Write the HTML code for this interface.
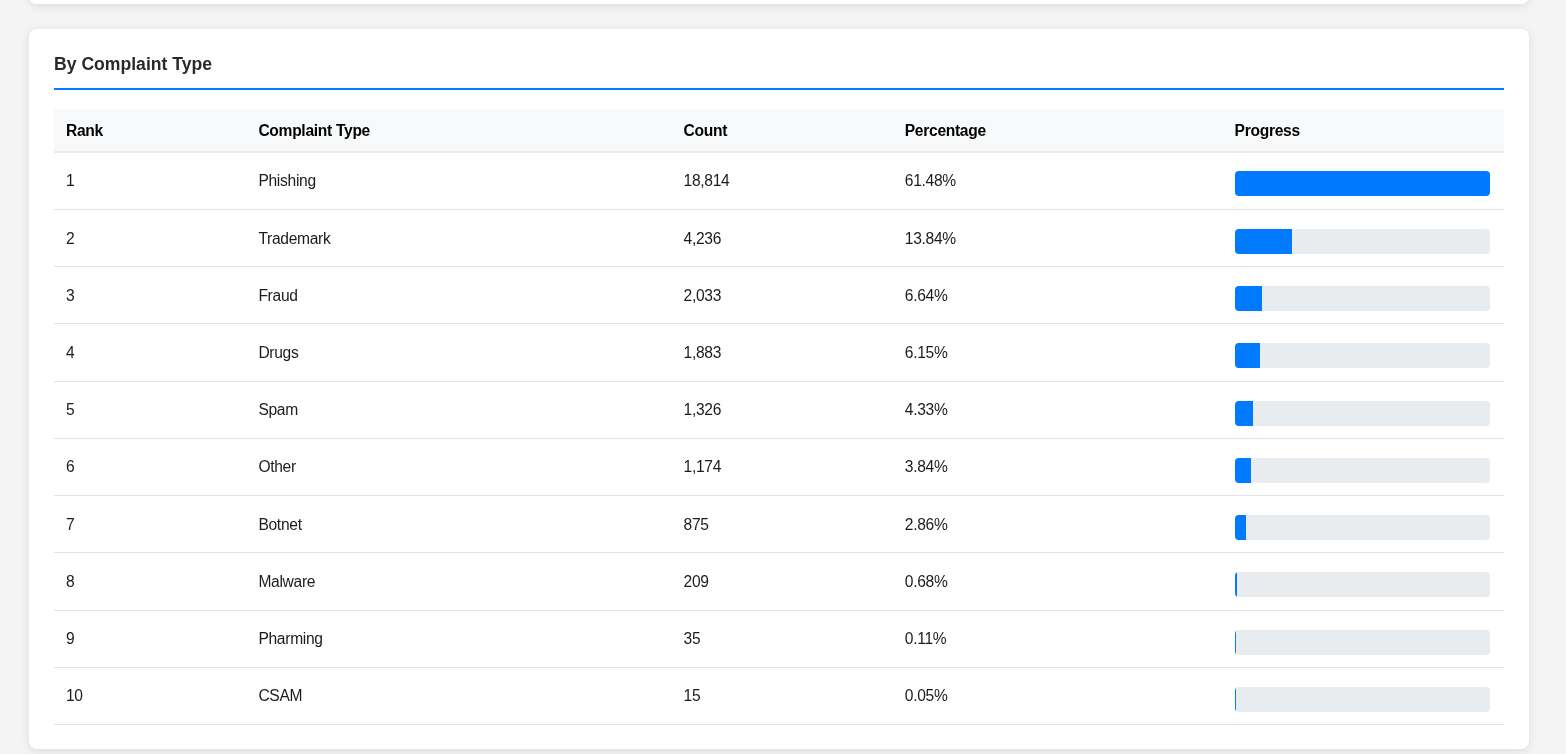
<!DOCTYPE html>
<html>
<head>
<meta charset="utf-8">
<style>
html, body { margin: 0; padding: 0; }
body {
  width: 1566px; height: 754px; overflow: hidden; position: relative;
  background: #f4f4f4;
  font-family: "Liberation Sans", Arial, Helvetica, sans-serif;
  color: #1c1c1c;
}
.card {
  position: absolute; left: 29px; width: 1500px;
  background: #fff; border-radius: 8px;
  box-shadow: 0 2px 10px rgba(0,0,0,0.1);
  box-sizing: border-box;
}
.card1 { top: -200px; height: 204px; }
.card2 { top: 29px; height: 720px; padding: 25px; }
h3 {
  margin: 0 0 19px 0; padding: 0 0 14px 0;
  font-size: 17.6px; line-height: 20px; font-weight: bold; color: #2a2a2a;
  border-bottom: 2px solid #007bff;
}
table { width: 1450px; border-collapse: collapse; table-layout: fixed; font-size: 15px; }
th {
  text-align: left; font-weight: bold; color: #000;
  background: #f8f9fa; padding: 1px 12px 0 12px; height: 40.78px; font-size: 15.6px; letter-spacing: -0.3px;
  border-bottom: 2px solid #eaeaea; line-height: 17px;
}
td {
  padding: 0 12px; height: 56.22px; line-height: 17px; font-size: 15.6px; letter-spacing: -0.3px;
  border-bottom: 1px solid #e3e3e3; vertical-align: middle;
}
td.p { vertical-align: top; padding-top: 19px; height: 37.22px; }
tbody tr:first-child td.p { padding-top: 18px; height: 38.22px; }
.bar { height: 25px; background: #e9ecef; border-radius: 4px; overflow: hidden; width: 255.5px; }
.fill { height: 100%; background: #007bff; }
</style>
</head>
<body>
<div class="card card1"></div>
<div class="card card2">
  <h3>By Complaint Type</h3>
  <table>
    <colgroup>
      <col style="width:192.4px"><col style="width:425.2px"><col style="width:221.2px"><col style="width:329.8px"><col style="width:281.4px">
    </colgroup>
    <thead>
      <tr><th>Rank</th><th>Complaint Type</th><th>Count</th><th>Percentage</th><th>Progress</th></tr>
    </thead>
    <tbody>
      <tr><td>1</td><td>Phishing</td><td>18,814</td><td>61.48%</td><td class="p"><div class="bar"><div class="fill" style="width:100%"></div></div></td></tr>
      <tr><td>2</td><td>Trademark</td><td>4,236</td><td>13.84%</td><td class="p"><div class="bar"><div class="fill" style="width:22.52%"></div></div></td></tr>
      <tr><td>3</td><td>Fraud</td><td>2,033</td><td>6.64%</td><td class="p"><div class="bar"><div class="fill" style="width:10.81%"></div></div></td></tr>
      <tr><td>4</td><td>Drugs</td><td>1,883</td><td>6.15%</td><td class="p"><div class="bar"><div class="fill" style="width:10.01%"></div></div></td></tr>
      <tr><td>5</td><td>Spam</td><td>1,326</td><td>4.33%</td><td class="p"><div class="bar"><div class="fill" style="width:7.05%"></div></div></td></tr>
      <tr><td>6</td><td>Other</td><td>1,174</td><td>3.84%</td><td class="p"><div class="bar"><div class="fill" style="width:6.24%"></div></div></td></tr>
      <tr><td>7</td><td>Botnet</td><td>875</td><td>2.86%</td><td class="p"><div class="bar"><div class="fill" style="width:4.65%"></div></div></td></tr>
      <tr><td>8</td><td>Malware</td><td>209</td><td>0.68%</td><td class="p"><div class="bar"><div class="fill" style="width:1.11%"></div></div></td></tr>
      <tr><td>9</td><td>Pharming</td><td>35</td><td>0.11%</td><td class="p"><div class="bar"><div class="fill" style="width:0.19%"></div></div></td></tr>
      <tr><td>10</td><td>CSAM</td><td>15</td><td>0.05%</td><td class="p"><div class="bar"><div class="fill" style="width:0.08%"></div></div></td></tr>
    </tbody>
  </table>
</div>
</body>
</html>
